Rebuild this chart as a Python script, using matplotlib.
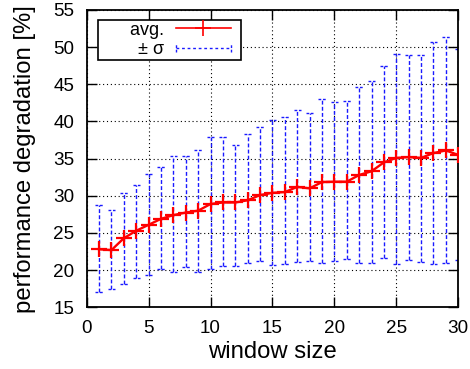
import matplotlib
matplotlib.use("Agg")
import matplotlib.pyplot as plt
from matplotlib.lines import Line2D
from matplotlib.legend_handler import HandlerLine2D
import numpy as np

window = list(range(1, 31))
avg = [22.8, 22.7, 24.3, 25.3, 26.1, 26.9, 27.4, 27.75, 28.0, 28.9,
       29.1, 29.1, 29.4, 30.1, 30.4, 30.5, 31.2, 31.0, 31.85, 31.9,
       31.9, 32.8, 33.3, 34.5, 35.1, 35.2, 35.1, 35.75, 36.1, 35.5]
upper = [28.8, 28.1, 30.4, 31.5, 32.9, 33.9, 35.4, 35.3, 36.2, 37.9,
         37.9, 36.9, 38.3, 39.2, 40.15, 40.55, 41.5, 41.1, 43.0, 42.6,
         42.8, 44.7, 45.5, 47.4, 49.1, 48.9, 49.0, 50.7, 51.3, 49.8]
lower = [17.0, 17.4, 18.2, 18.9, 19.4, 20.1, 19.8, 20.4, 19.8, 20.1,
         20.6, 20.5, 20.9, 21.2, 20.7, 20.8, 21.1, 21.2, 20.9, 21.2,
         21.5, 20.9, 20.9, 21.6, 20.8, 21.4, 21.1, 20.8, 20.9, 21.4]

xticks = [0, 5, 10, 15, 20, 25, 30]
yticks = [15, 20, 25, 30, 35, 40, 45, 50, 55]

plt.rcParams['font.family'] = ['Liberation Sans', 'DejaVu Sans']

fig = plt.figure(figsize=(4.7, 3.69), dpi=100)
ax = fig.add_axes([0.1845, 0.1672, 0.975 - 0.1845, 0.973 - 0.1672])

x = np.array(window)
a = np.array(avg)
yerr = np.vstack([a - np.array(lower), np.array(upper) - a])

blue = '#1a1aff'
dash = (0, (2.8, 1.6))
eb = ax.errorbar(x, a, yerr=yerr, fmt='none', ecolor=blue, elinewidth=1.0,
                 capsize=0, zorder=2)
for c in eb[2]:
    c.set_linestyle(dash)
ax.hlines(upper, x - 0.3, x + 0.3, colors=blue, linestyles=(0, (2, 1.2)), lw=1.0, zorder=2)
ax.hlines(lower, x - 0.3, x + 0.3, colors=blue, linestyles=(0, (2, 1.2)), lw=1.0, zorder=2)

ax.plot(x, a, color='#ff0000', lw=1.7, marker='+', markersize=12, mew=1.6,
        zorder=3)

ax.set_xlim(0, 30)
ax.set_ylim(15, 55)
ax.set_xticks(xticks)
ax.set_yticks(yticks)
ax.tick_params(direction='in', top=True, right=True, length=7, width=1,
               labelsize=13.6, pad=9, colors='black')
ax.grid(True, color='black', linestyle=(0, (1, 2.5)), lw=0.8)
for s in ax.spines.values():
    s.set_linewidth(1.3)

ax.set_xlabel('window size', fontsize=17.2, labelpad=3)
ax.set_ylabel('performance degradation [%]', fontsize=17.2, labelpad=12)

RPAD = 5.9  # points of empty space right of the legend sample


class PaddedLine(HandlerLine2D):
    def __init__(self, caps=False, **kw):
        super().__init__(**kw)
        self.caps = caps

    def create_artists(self, legend, orig_handle, xdescent, ydescent,
                       width, height, fontsize, trans):
        w = width - RPAD
        arts = super().create_artists(legend, orig_handle, xdescent, ydescent,
                                      w, height, fontsize, trans)
        if self.caps:
            yc = height / 2 - ydescent
            for xx in (-xdescent, -xdescent + w):
                cap = Line2D([xx, xx], [yc - 3, yc + 3], color=orig_handle.get_color(),
                             lw=1.0, linestyle=(0, (2, 1.2)), transform=trans)
                arts.append(cap)
        return arts


h_avg = Line2D([], [], color='#ff0000', lw=1.2, marker='+', markersize=12, mew=1.2)
h_sig = Line2D([], [], color=blue, lw=1.0, linestyle=(0, (2, 2)))
leg = ax.legend([h_avg, h_sig], ['      avg.', '± σ'], loc='upper left',
                bbox_to_anchor=(0.0304, 0.9664), fontsize=13, frameon=True,
                fancybox=False, edgecolor='black', markerfirst=False,
                handlelength=3.5, borderpad=0.1, labelspacing=0.15,
                handletextpad=0.66, borderaxespad=0, framealpha=1,
                handler_map={h_avg: PaddedLine(numpoints=1),
                             h_sig: PaddedLine(caps=True)})
leg.get_frame().set_linewidth(1.2)

fig.savefig('out.png', dpi=100)
